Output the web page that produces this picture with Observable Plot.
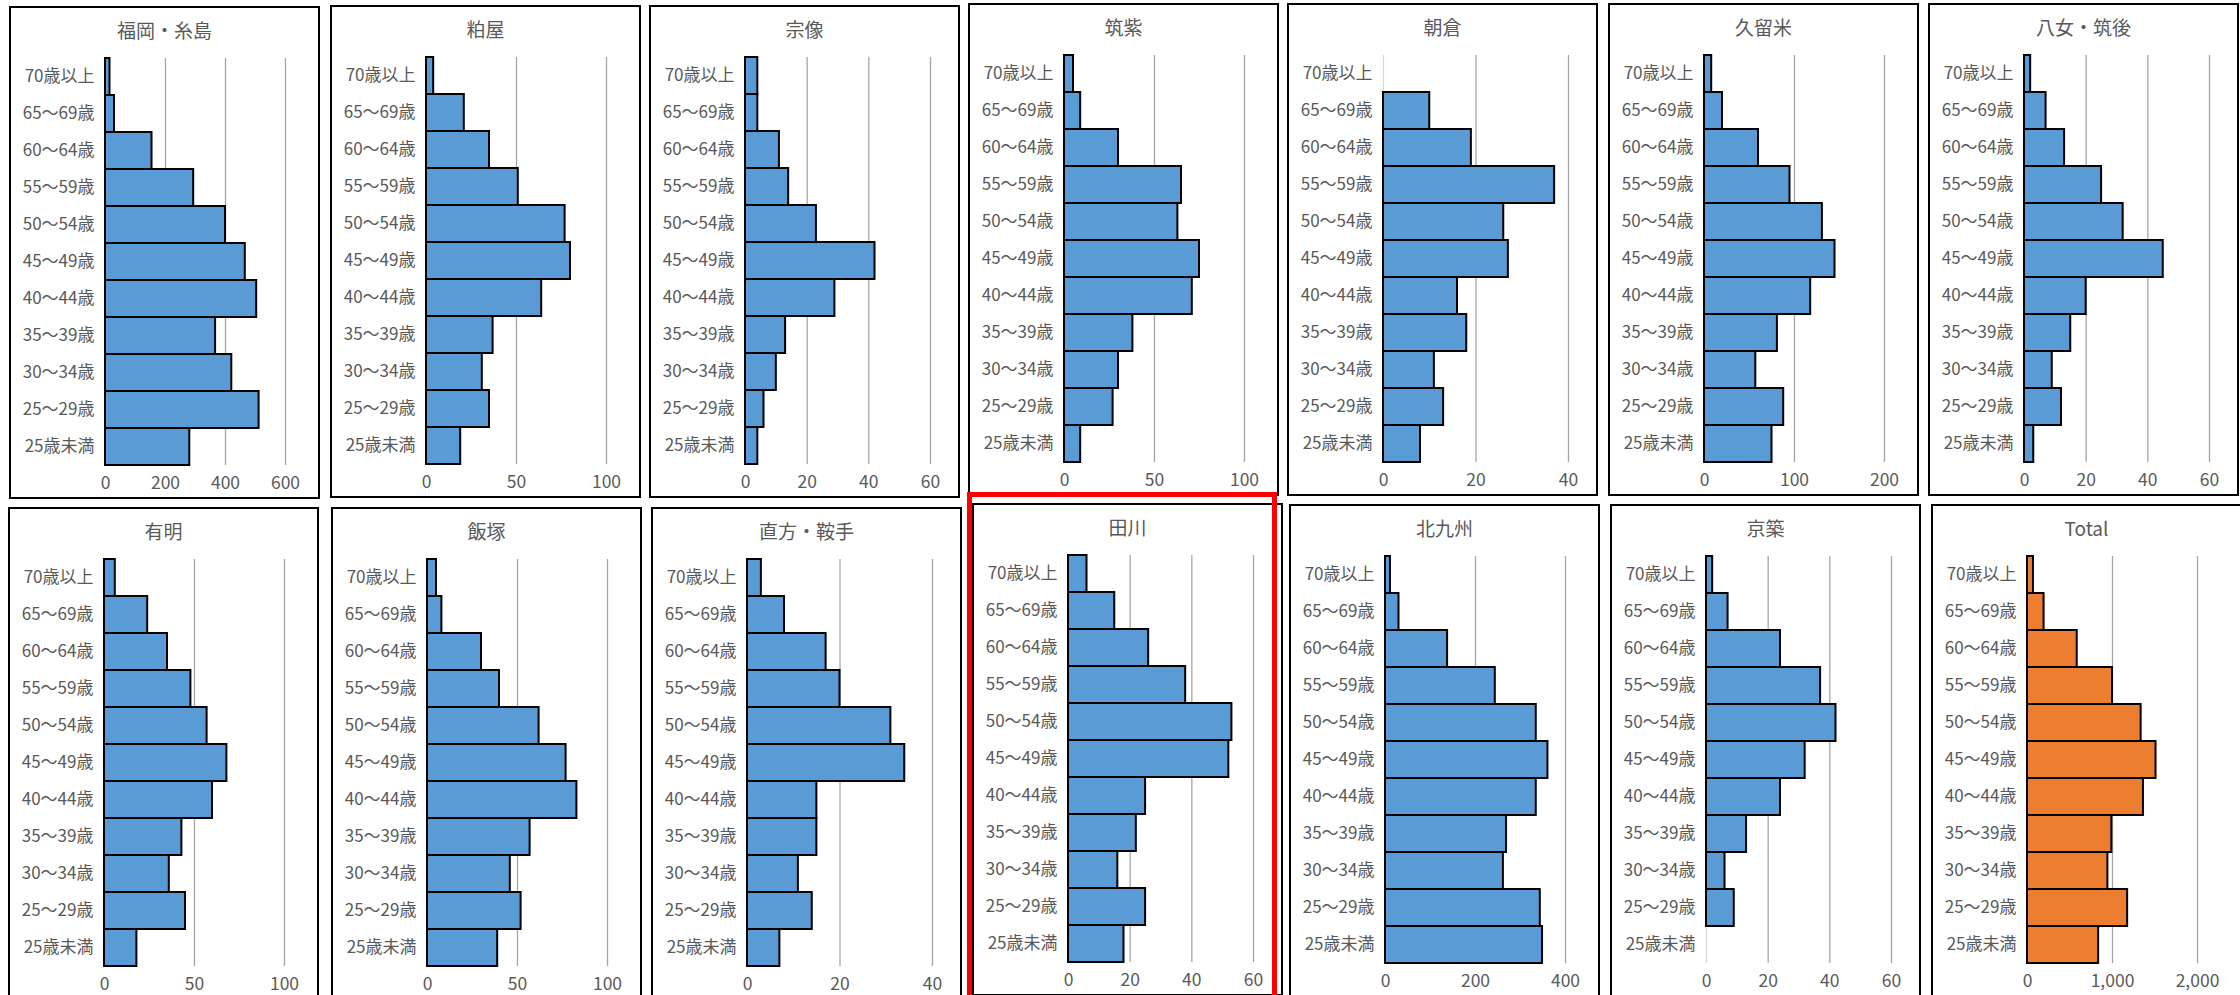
<!DOCTYPE html>
<html>
<head>
<meta charset="utf-8">
<script src="https://cdn.jsdelivr.net/npm/d3@7"></script>
<script src="https://cdn.jsdelivr.net/npm/@observablehq/plot@0.6"></script>
<style>
  html, body { margin: 0; padding: 0; background: #fff; }
  body { width: 2240px; height: 995px; overflow: hidden; position: relative;
         font-family: "Noto Sans CJK JP", "Noto Sans", sans-serif; }
  .panel { position: absolute; box-sizing: border-box; border: 2px solid #000; background: #fff; }
  .title { position: absolute; left: 0; top: 0; width: 100%; height: 44px; line-height: 44px;
           text-align: center; font-size: 19px; color: #595959; }
  .panel svg { position: absolute; left: 0; top: 44px; }
  .highlight { position: absolute; box-sizing: border-box; border: 5px solid #ff0000; }
</style>
</head>
<body>
<div id="root"></div>
<script>
// ---- data ----
const ages = ["70歳以上","65～69歳","60～64歳","55～59歳","50～54歳","45～49歳","40～44歳","35～39歳","30～34歳","25～29歳","25歳未満"];
const regions = ["福岡・糸島","粕屋","宗像","筑紫","朝倉","久留米","八女・筑後","有明","飯塚","直方・鞍手","田川","北九州","京築","Total"];

const fukuokaItoshima = [15, 30, 155, 294, 400, 466, 504, 367, 421, 512, 281];
const kasuya          = [4, 21, 35, 51, 77, 80, 64, 37, 31, 35, 19];
const munakata        = [4, 4, 11, 14, 23, 42, 29, 13, 10, 6, 4];
const chikushi        = [5, 9, 30, 65, 63, 75, 71, 38, 30, 27, 9];
const asakura         = [0, 10, 19, 37, 26, 27, 16, 18, 11, 13, 8];
const kurume          = [8, 20, 60, 95, 131, 145, 118, 81, 57, 88, 75];
const yameChikugo     = [2, 7, 13, 25, 32, 45, 20, 15, 9, 12, 3];
const ariake          = [6, 24, 35, 48, 57, 68, 60, 43, 36, 45, 18];
const iizuka          = [5, 8, 30, 40, 62, 77, 83, 57, 46, 52, 39];
const noogataKurate   = [3, 8, 17, 20, 31, 34, 15, 15, 11, 14, 7];
const tagawa          = [6, 15, 26, 38, 53, 52, 25, 22, 16, 25, 18];
const kitakyushu      = [11, 30, 138, 244, 335, 361, 335, 269, 262, 344, 349];
const chikujo         = [2, 7, 24, 37, 42, 32, 24, 13, 6, 9, 0];
const total           = [70, 195, 585, 1000, 1337, 1512, 1364, 992, 946, 1178, 837];

const seriesValues = [fukuokaItoshima, kasuya, munakata, chikushi, asakura, kurume, yameChikugo,
                      ariake, iizuka, noogataKurate, tagawa, kitakyushu, chikujo, total];
const axisMax  = [600, 100, 60, 100, 40, 200, 60, 100, 100, 40, 60, 400, 60, 2000];
const tickStep = [200, 50, 20, 50, 20, 100, 20, 50, 50, 20, 20, 200, 20, 1000];

// ---- layout ----
const lefts = [[9, 330, 649, 968, 1287, 1608, 1928], [8, 331, 651, 972, 1289, 1610, 1931]];
const tops  = [[6, 5, 5, 3, 3, 3, 3], [507, 507, 507, 503, 504, 504, 504]];
const panelW = 311, panelH = 493;
const highlightIndex = 10;

const root = document.getElementById("root");

regions.forEach((name, i) => {
  const row = Math.floor(i / 7), col = i % 7;
  const panel = document.createElement("div");
  panel.className = "panel";
  panel.style.left = lefts[row][col] + "px";
  panel.style.top = tops[row][col] + "px";
  panel.style.width = panelW + "px";
  panel.style.height = panelH + "px";

  const title = document.createElement("div");
  title.className = "title";
  title.textContent = name;
  panel.appendChild(title);

  const data = ages.map((a, k) => ({age: a, value: seriesValues[i][k]}));
  const ticks = d3.range(0, axisMax[i] + 1e-9, tickStep[i]);
  const maxLabel = d3.format(",")(axisMax[i]).length;
  const marginRight = maxLabel >= 5 ? 43 : (maxLabel === 3 ? 33 : 28);
  const innerW = panelW - 4;
  const svgH = panelH - 4 - 44;

  const chart = Plot.plot({
    width: innerW,
    height: svgH,
    marginLeft: 94,
    marginRight: marginRight,
    marginTop: 6,
    marginBottom: svgH - 413,
    style: {fontFamily: '"Noto Sans CJK JP", "Noto Sans", sans-serif', fontSize: "17px", color: "#595959", background: "transparent"},
    x: {domain: [0, axisMax[i]], axis: null, label: null},
    y: {domain: ages, padding: 0, axis: null, label: null},
    marks: [
      Plot.ruleX(ticks.filter(t => t > 0), {stroke: "#a6a6a6", strokeWidth: 1.3}),
      Plot.ruleX([0], {stroke: "#d9d9d9", strokeWidth: 1.3}),
      Plot.barX(data.filter(d => d.value > 0), {
        y: "age", x: "value",
        fill: i === regions.length - 1 ? "#ed7d31" : "#5b9bd5",
        stroke: "#000", strokeWidth: 2, insetTop: 0, insetBottom: 0
      }),
      Plot.axisY({tickSize: 0, tickPadding: 11, fontSize: 17, label: null}),
      Plot.axisX({ticks: ticks, tickSize: 0, tickPadding: 11, fontSize: 17.5, label: null,
                  tickFormat: d3.format(",")})
    ]
  });
  panel.appendChild(chart);
  root.appendChild(panel);

  if (i === highlightIndex) {
    const hl = document.createElement("div");
    hl.className = "highlight";
    hl.style.left = (lefts[row][col] - 5) + "px";
    hl.style.top = (tops[row][col] - 11) + "px";
    hl.style.width = (panelW - 1) + "px";
    hl.style.height = "520px";
    root.appendChild(hl);
  }
});
</script>
</body>
</html>
